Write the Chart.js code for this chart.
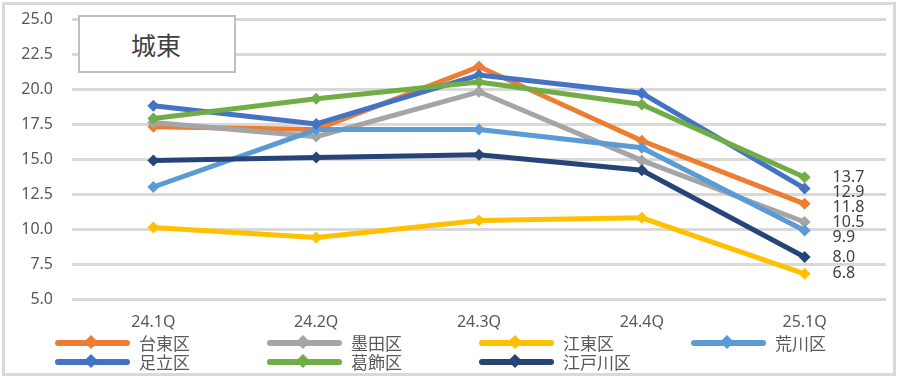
<!DOCTYPE html>
<html>
<head>
<meta charset="utf-8">
<script src="https://cdn.jsdelivr.net/npm/chart.js@4"></script>
<style>
  body { margin: 0; background: #fff; }
  #wrap { position: relative; width: 900px; height: 380px; overflow: hidden; }
  #frame { position: absolute; left: 2px; top: 2px; width: 888px; height: 368px; border: 3px solid #D9D9D9; }
  #chart { position: absolute; left: 0; top: 0; }
  #title { position: absolute; left: 78px; top: 15px; width: 152px; height: 54px; border: 2px solid #BFBFBF;
           background: #fff; font: 25px "Noto Sans CJK JP", sans-serif; color: #404040;
           display: flex; align-items: center; justify-content: center; padding-right: 2px; }
  #legend { position: absolute; left: 55px; top: 333px; width: 848px; display: grid;
            grid-template-columns: repeat(4, 212px); grid-auto-rows: 19px; }
  .item { display: flex; align-items: center; font: 17px "Noto Sans CJK JP", sans-serif; color: #595959; }
  .swatch { position: relative; width: 75px; height: 6px; border-radius: 3px; margin-right: 9px; }
  .swatch i { position: absolute; left: 31px; top: -3px; width: 10px; height: 10px; transform: rotate(45deg); }
</style>
</head>
<body>
<div id="wrap">
  <div id="frame"></div>
  <canvas id="chart" width="900" height="380"></canvas>
  <div id="title">城東</div>
  <div id="legend"></div>
</div>
<script>
// 城東エリア 四半期推移

const quarters = ['24.1Q', '24.2Q', '24.3Q', '24.4Q', '25.1Q'];
const wards = ['台東区', '墨田区', '江東区', '荒川区', '足立区', '葛飾区', '江戸川区'];
const colors = ['#ED7D31', '#A5A5A5', '#FFC000', '#5B9BD5', '#4472C4', '#70AD47', '#264478'];

const taito = [17.3, 17.1, 21.6, 16.3, 11.8];
const sumida = [17.6, 16.6, 19.8, 14.9, 10.5];
const koto = [10.1, 9.4, 10.6, 10.8, 6.8];
const arakawa = [13.0, 17.1, 17.1, 15.8, 9.9];
const adachi = [18.8, 17.5, 21.0, 19.7, 12.9];
const katsushika = [17.9, 19.3, 20.5, 18.9, 13.7];
const edogawa = [14.9, 15.1, 15.3, 14.2, 8.0];

const seriesValues = [taito, sumida, koto, arakawa, adachi, katsushika, edogawa];
const yTicks = [5, 7.5, 10, 12.5, 15, 17.5, 20, 22.5, 25];

// labels for the last quarter, pushed apart when they overlap
const lastValueLabels = {
    id: 'lastValueLabels',
    afterDatasetsDraw(chart) {
        const ctx = chart.ctx;
        const items = chart.data.datasets.map((ds, i) => {
            const meta = chart.getDatasetMeta(i);
            const pt = meta.data[meta.data.length - 1];
            return { x: pt.x, y: pt.y, text: ds.data[ds.data.length - 1].toFixed(1) };
        }).sort((a, b) => a.y - b.y);
        const gap = 15;
        for (let i = 1; i < items.length; i++) {
            if (items[i].y - items[i - 1].y < gap) {
                items[i].y = items[i - 1].y + gap;
            }
        }
        ctx.save();
        ctx.font = '16px "Noto Sans", sans-serif';
        ctx.fillStyle = '#404040';
        ctx.textAlign = 'left';
        ctx.textBaseline = 'middle';
        items.forEach(it => ctx.fillText(it.text, it.x + 28, it.y));
        ctx.restore();
    }
};

const datasets = wards.map((name, i) => ({
    label: name,
    data: seriesValues[i],
    borderColor: colors[i],
    backgroundColor: colors[i],
    borderWidth: 5,
    pointStyle: 'rectRot',
    pointRadius: 6,
    pointBorderWidth: 0,
    tension: 0,
    order: -i
}));

new Chart(document.getElementById('chart'), {
    type: 'line',
    data: { labels: quarters, datasets: datasets },
    options: {
        responsive: false,
        animation: false,
        layout: { padding: { top: 19, right: 14, left: 0, bottom: 0 } },
        plugins: {
            legend: { display: false },
            tooltip: { enabled: false }
        },
        scales: {
            x: {
                offset: true,
                grid: { display: false, drawTicks: false },
                border: { display: false },
                ticks: {
                    color: '#595959',
                    padding: 14,
                    font: { family: 'Noto Sans', size: 16 }
                },
                afterFit: function(scale) { scale.height = 81; }
            },
            y: {
                min: 5,
                max: 25,
                afterBuildTicks: function(scale) {
                    scale.ticks = yTicks.map(v => ({ value: v }));
                },
                // tick marks kept invisible, they only push labels left
                grid: { color: '#D9D9D9', lineWidth: 3, drawTicks: true, tickLength: 16, tickColor: 'rgba(0,0,0,0)' },
                border: { display: false },
                ticks: {
                    color: '#595959',
                    padding: 3,
                    font: { family: 'Noto Sans', size: 16 },
                    callback: function(value) { return value.toFixed(1); }
                },
                afterFit: function(scale) { scale.width = 72; }
            }
        }
    },
    plugins: [lastValueLabels]
});

// legend in four columns like the original
const legend = document.getElementById('legend');
wards.forEach((name, i) => {
    const item = document.createElement('div');
    item.className = 'item';
    item.innerHTML = '<span class="swatch" style="background:' + colors[i] + '"><i style="background:' +
        colors[i] + '"></i></span>' + name;
    legend.appendChild(item);
});
</script>
</body>
</html>
